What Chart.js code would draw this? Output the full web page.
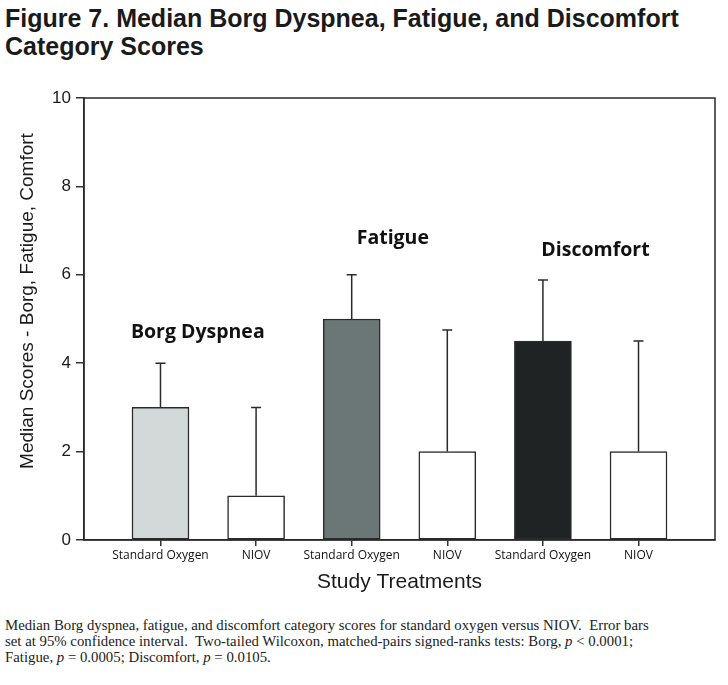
<!DOCTYPE html>
<html>
<head>
<meta charset="utf-8">
<script src="https://cdn.jsdelivr.net/npm/chart.js@4/dist/chart.umd.min.js"></script>
<style>
  html, body { margin: 0; padding: 0; background: #fff; }
  body { width: 728px; height: 685px; position: relative; overflow: hidden; }
  #title {
    position: absolute; left: 5px; top: 4px; width: 720px;
    font-family: "Liberation Sans", Arial, sans-serif;
    font-weight: bold; font-size: 25px; line-height: 28px; color: #1a1a1a;
  }
  #wrap { position: absolute; left: 0; top: 0; width: 728px; height: 600px; }
  #caption {
    position: absolute; left: 5px; top: 617px; width: 722px;
    font-family: "Liberation Serif", "DejaVu Serif", serif;
    font-size: 14.8px; line-height: 16px; color: #222;
  }
</style>
</head>
<body>
<div id="title">Figure 7. Median Borg Dyspnea, Fatigue, and Discomfort<br>Category Scores</div>
<div id="wrap"><canvas id="chart" width="728" height="600"></canvas></div>
<div id="caption">Median Borg dyspnea, fatigue, and discomfort category scores for standard oxygen versus NIOV.&nbsp; Error bars<br>set at 95% confidence interval.&nbsp; Two-tailed Wilcoxon, matched-pairs signed-ranks tests: Borg, <i>p</i> &lt; 0.0001;<br>Fatigue, <i>p</i> = 0.0005; Discomfort, <i>p</i> = 0.0105.</div>
<script>
const categories = ['Standard Oxygen', 'NIOV', 'Standard Oxygen', 'NIOV', 'Standard Oxygen', 'NIOV'];
const medians = [3, 1, 5, 2, 4.5, 2];
const upperCI = [4, 3, 6, 4.75, 5.88, 4.5];
const barColors = ['#d3d9d8', '#ffffff', '#6b7777', '#ffffff', '#1f2324', '#ffffff'];
const groupNames = ['Borg Dyspnea', 'Fatigue', 'Discomfort'];
const groupLabelAt = [[0.39, 4.7], [2.43, 6.83], [4.55, 6.56]];
const yTicks = [0, 2, 4, 6, 8, 10];
const yTitle = 'Median Scores - Borg, Fatigue, Comfort';

// error bars (upper only), plot frame, group labels and y title
const extras = {
    id: 'extras',
    afterDatasetsDraw(chart) {
        const {ctx, chartArea, scales: {x, y}} = chart;
        ctx.save();
        ctx.strokeStyle = '#2a2a2a';
        ctx.lineWidth = 1.5;
        upperCI.forEach((hi, i) => {
            const px = x.getPixelForValue(i);
            const y0 = y.getPixelForValue(medians[i]);
            const y1 = y.getPixelForValue(hi);
            ctx.beginPath();
            ctx.moveTo(px, y0);
            ctx.lineTo(px, y1);
            ctx.moveTo(px - 5, y1);
            ctx.lineTo(px + 5, y1);
            ctx.stroke();
        });
        ctx.strokeRect(chartArea.left, chartArea.top, chartArea.width, chartArea.height);

        ctx.fillStyle = '#111';
        ctx.font = 'bold 19.5px "Open Sans", sans-serif';
        ctx.textAlign = 'center';
        ctx.textBaseline = 'middle';
        groupNames.forEach((name, i) => {
            const [gx, gy] = groupLabelAt[i];
            ctx.fillText(name, x.getPixelForValue(gx), y.getPixelForValue(gy));
        });

        ctx.fillStyle = '#1a1a1a';
        ctx.font = '19px Arial, "Liberation Sans", sans-serif';
        ctx.translate(28, 301);
        ctx.rotate(-Math.PI / 2);
        ctx.fillText(yTitle, 0, 0);
        ctx.restore();
    }
};

new Chart(document.getElementById('chart'), {
    type: 'bar',
    data: {
        datasets: [{
            data: medians.map((v, i) => ({x: i, y: v})),
            backgroundColor: barColors,
            borderColor: '#2a2a2a',
            borderWidth: 1.5,
            borderSkipped: false,
            barThickness: 57
        }]
    },
    options: {
        responsive: false,
        animation: false,
        layout: {padding: {top: 98, right: 13, bottom: 0, left: 0}},
        plugins: {legend: {display: false}, tooltip: {enabled: false}},
        scales: {
            x: {
                type: 'linear',
                min: -0.8,
                max: 5.8,
                offset: false,
                afterBuildTicks: scale => { scale.ticks = categories.map((_, i) => ({value: i})); },
                afterFit: scale => { scale.height = 60; },
                ticks: {
                    autoSkip: false,
                    maxRotation: 0,
                    padding: 2,
                    color: '#111',
                    font: {family: '"Open Sans", sans-serif', size: 12},
                    callback: v => categories[v]
                },
                grid: {display: true, offset: false, drawOnChartArea: false, drawTicks: true, tickLength: 6, color: '#333', lineWidth: 1.5},
                border: {display: true, color: '#2a2a2a', width: 1.5},
                title: {
                    display: true,
                    text: 'Study Treatments',
                    color: '#1a1a1a',
                    font: {family: 'Arial, "Liberation Sans", sans-serif', size: 21},
                    padding: {top: 0, bottom: 5}
                }
            },
            y: {
                min: 0,
                max: 10,
                afterBuildTicks: scale => { scale.ticks = yTicks.map(v => ({value: v})); },
                afterFit: scale => { scale.width = 84; },
                ticks: {
                    padding: 5,
                    color: '#1a1a1a',
                    font: {family: 'Arial, "Liberation Sans", sans-serif', size: 17}
                },
                grid: {display: true, drawOnChartArea: false, drawTicks: true, tickLength: 8, color: '#333', lineWidth: 1.5},
                border: {display: true, color: '#2a2a2a', width: 1.5}
            }
        }
    },
    plugins: [extras]
});
</script>
</body>
</html>
